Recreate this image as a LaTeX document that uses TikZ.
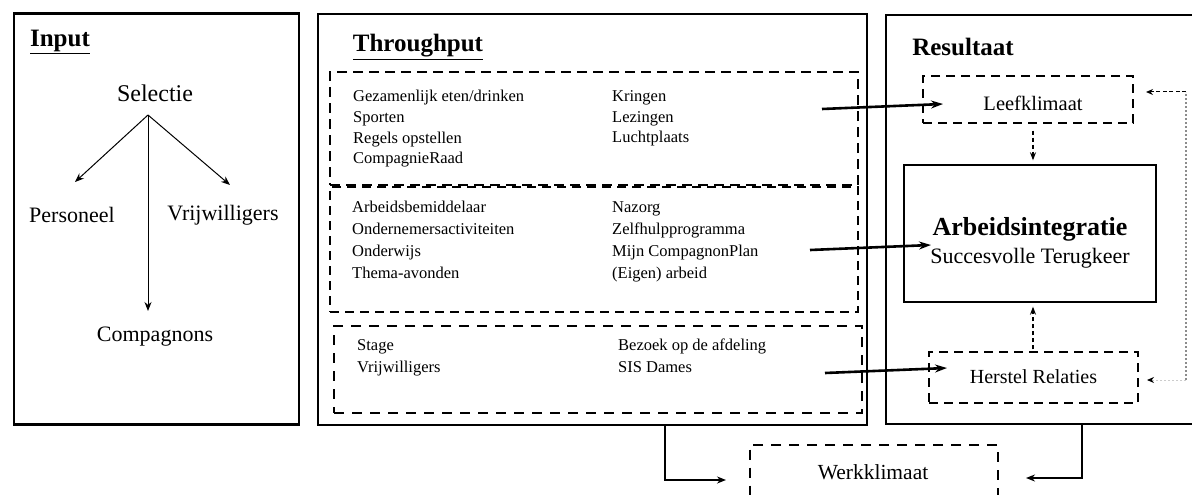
\documentclass[tikz,border=0pt]{standalone}
\usepackage{fontspec}
\setmainfont{Liberation Serif}
\usetikzlibrary{arrows.meta}
\begin{document}
\begin{tikzpicture}[x=1pt,y=-1pt,
  lst/.style={anchor=mid west, inner sep=0pt, font=\fontsize{16.5}{18}\selectfont},
  lbl/.style={inner sep=0pt, font=\fontsize{22}{24}\selectfont},
  head/.style={inner sep=0pt, font=\fontsize{25}{27}\selectfont\bfseries},
  outer/.style={draw, line width=1.4pt, inner sep=0pt},
  dbox/.style={draw, line width=1.5pt, dash pattern=on 9pt off 6pt, inner sep=0pt},
  arr/.style={-{Stealth[length=9pt,width=7pt]}, line width=1pt},
  thickarr/.style={-{Stealth[length=12pt,width=8pt]}, line width=2.6pt},
  darr/.style={-{Stealth[length=8pt,width=6pt]}, line width=1.1pt, dash pattern=on 4pt off 3pt},
  fbtop/.style={-{Stealth[length=7pt,width=6pt]}, line width=1pt, dash pattern=on 4pt off 2.5pt},
  fbline/.style={line width=1.2pt, black!45, dash pattern=on 2pt off 2pt},
  fbbot/.style={-{Stealth[length=7pt,width=6pt,black]}, line width=1pt, black!20, dash pattern=on 2pt off 2pt},
  warr/.style={-{Stealth[length=9pt,width=7pt]}, line width=1.6pt}]
\useasboundingbox (0,0) rectangle (1192,495);

% ---------- Input ----------
\node[outer, line width=2.6pt, minimum width=285pt, minimum height=411pt] (inbox) at (156.5,219) {};
\node[head] (inh) at (60,42) {\underline{Input}};
\node[lbl, font=\fontsize{24}{26}\selectfont] (sel) at (155,93) {Selectie};
\coordinate (so) at (148,115);
\node[lbl] (pers) at (72,215) {Personeel};
\node[lbl] (vrij) at (223,215) {Vrijwilligers};
\node[lbl] (comp) at (155,337) {Compagnons};
\coordinate (pt) at (75,182);
\coordinate (vt) at (230,185);
\coordinate (ct) at (148,311);
\draw[arr] (so) -- (pt);
\draw[arr] (so) -- (vt);
\draw[arr] (so) -- (ct);

% ---------- Throughput ----------
\node[outer, minimum width=549pt, minimum height=411pt] (tp) at (592.5,219.5) {};
\node[head] (tph) at (418,47) {\underline{Throughput}};
\node[dbox, line width=2.3pt, dash pattern=on 10pt off 6pt, minimum width=528pt, minimum height=113pt] (b1) at (594,128.5) {};
\node[dbox, minimum width=528pt, minimum height=125pt] (b2) at (594,249.5) {};
\node[dbox, dash pattern=on 10pt off 8pt, minimum width=528pt, minimum height=87pt] (b3) at (598,369.5) {};

\node[lst] (t11) at (353,99) {Gezamenlijk eten/drinken};
\node[lst] (t12) at (353,120) {Sporten};
\node[lst] (t13) at (353,141) {Regels opstellen};
\node[lst] (t14) at (353,161) {CompagnieRaad};
\node[lst] (t15) at (612,99) {Kringen};
\node[lst] (t16) at (612,120) {Lezingen};
\node[lst] (t17) at (612,140) {Luchtplaats};

\node[lst] (t21) at (352,210) {Arbeidsbemiddelaar};
\node[lst] (t22) at (352,232) {Ondernemersactiviteiten};
\node[lst] (t23) at (352,254) {Onderwijs};
\node[lst] (t24) at (352,276) {Thema-avonden};
\node[lst] (t25) at (612,210) {Nazorg};
\node[lst] (t26) at (612,232) {Zelfhulpprogramma};
\node[lst] (t27) at (612,254) {Mijn CompagnonPlan};
\node[lst] (t28) at (612,276) {(Eigen) arbeid};

\node[lst] (t31) at (357,348) {Stage};
\node[lst] (t32) at (357,370) {Vrijwilligers};
\node[lst] (t33) at (618,348) {Bezoek op de afdeling};
\node[lst] (t34) at (618,370) {SIS Dames};

% ---------- Resultaat ----------
\node[outer, minimum width=320pt, minimum height=409pt] (res) at (1046,219.5) {};
\node[head] (resh) at (963,47) {Resultaat};
\node[dbox, line width=1.3pt, minimum width=210pt, minimum height=47pt] (lk) at (1028,99.5) {};
\node[lbl, font=\fontsize{20.5}{22}\selectfont] (lkt) at (1033,103) {Leefklimaat};
\node[draw, line width=1.4pt, inner sep=0pt, minimum width=252pt, minimum height=137pt] (arb) at (1030,233.5) {};
\node[lbl, font=\fontsize{26}{28}\selectfont\bfseries] (arbt) at (1030,229) {Arbeidsintegratie};
\node[lbl] (arbs) at (1030,258) {Succesvolle Terugkeer};
\node[dbox, line width=1.3pt, minimum width=209pt, minimum height=51pt] (hr) at (1033.5,377.5) {};
\node[lbl, font=\fontsize{20}{22}\selectfont] (hrt) at (1033.5,377) {Herstel Relaties};

% ---------- Werkklimaat ----------
\node[dbox, line width=2pt, dash pattern=on 10pt off 8pt, minimum width=248pt, minimum height=75pt] (wk) at (874,482) {};
\node[lbl, font=\fontsize{21.5}{23}\selectfont] (wkt) at (873,472) {Werkklimaat};

% ---------- connectors ----------
\coordinate (a1s) at (822,109);
\coordinate (a1t) at (943,104);
\coordinate (a2s) at (810,250);
\coordinate (a2t) at (931,245);
\coordinate (a3s) at (825,373);
\coordinate (a3t) at (947,368);
\draw[thickarr] (a1s) -- (a1t);
\draw[thickarr] (a2s) -- (a2t);
\draw[thickarr] (a3s) -- (a3t);

\draw[darr, shorten <=7pt, shorten >=4pt] (lk.south -| lkt) -- (arb.north -| lkt);
\draw[darr, shorten <=2pt, shorten >=4pt] (hr.north -| lkt) -- (arb.south -| lkt);

\coordinate (fbb) at (1186,380);
\coordinate (fbt) at (1186,92);
\coordinate (fbbl) at (1147,380);
\coordinate (fbtl) at (1146,92);
\draw[fbline] (fbb) -- (fbt);
\draw[fbtop] (fbt) -- (fbtl);
\draw[fbbot] (fbb) -- (fbbl);

\coordinate (w1a) at (665,425);
\coordinate (w1b) at (665,480);
\coordinate (w1c) at (726,480);
\coordinate (w2a) at (1082,424);
\coordinate (w2b) at (1082,478);
\coordinate (w2c) at (1026,478);
\draw[warr] (w1a) -- (w1b) -- (w1c);
\draw[warr] (w2a) -- (w2b) -- (w2c);
\end{tikzpicture}
\end{document}
